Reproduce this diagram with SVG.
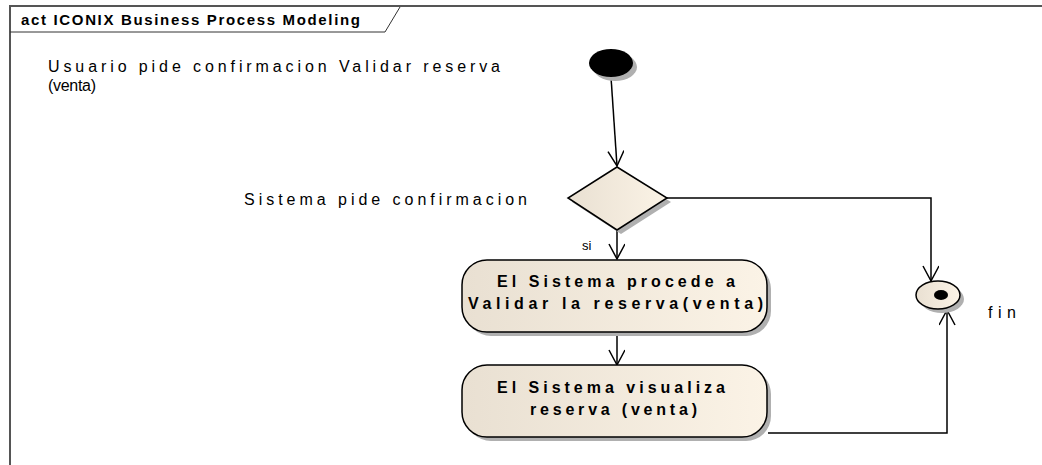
<svg xmlns="http://www.w3.org/2000/svg" width="1042" height="465" viewBox="0 0 1042 465">
<style>
.lbl{font-family:"Liberation Sans",Arial,sans-serif;font-size:16px;fill:#000}
.act{font-family:"Liberation Sans",Arial,sans-serif;font-size:16px;font-weight:bold;fill:#000}
.ttl{font-family:"Liberation Sans",Arial,sans-serif;font-size:15px;font-weight:bold;fill:#000}
.edge{fill:none;stroke:#000;stroke-width:1.5}
.shadow{fill:#b0b0b0}
.node{stroke:#000;stroke-width:1.5;fill:url(#beige)}
</style>
<defs>
<linearGradient id="beige" x1="0" y1="0" x2="1" y2="0">
<stop offset="0" stop-color="#e9e0d2"/>
<stop offset="1" stop-color="#fbf3e6"/>
</linearGradient>
<marker id="open" markerWidth="20" markerHeight="20" refX="16" refY="8" orient="auto" markerUnits="userSpaceOnUse">
<path d="M1,0 L16,8 L1,16" fill="none" stroke="#000" stroke-width="1.5"/>
</marker>
</defs>
<rect width="1042" height="465" fill="#fff"/>
<g id="frame">
<path d="M10,465 L10,6 L1042,6" fill="none" stroke="#555" stroke-width="2"/>
<path d="M10,32 L385,32 L400,7" fill="none" stroke="#333" stroke-width="1"/>
<text class="ttl" x="21" y="25" textLength="339" lengthAdjust="spacing">act ICONIX Business Process Modeling</text>
</g>
<g id="labels">
<text class="lbl" x="48" y="72" textLength="452" lengthAdjust="spacing">Usuario pide confirmacion Validar  reserva</text>
<text class="lbl" x="48" y="91" textLength="48" lengthAdjust="spacing">(venta)</text>
<text class="lbl" x="244" y="205" textLength="283" lengthAdjust="spacing">Sistema pide confirmacion</text>
</g>
<g id="connectors">
<path class="edge" d="M611,77 L617,166" marker-end="url(#open)"/>
<path class="edge" d="M617,230 L617,259" marker-end="url(#open)"/>
<text class="lbl" x="582" y="250" style="font-size:13px">si</text>
<path class="edge" d="M617,332 L617,365" marker-end="url(#open)"/>
<path class="edge" d="M667,198 L931,198 L931,281" marker-end="url(#open)"/>
<path class="edge" d="M768,433 L947,433 L947,310" marker-end="url(#open)"/>
</g>
<g id="start">
<ellipse class="shadow" cx="615" cy="67" rx="22" ry="14"/>
<ellipse cx="611" cy="63" rx="22" ry="14" fill="#000"/>
</g>
<g id="decision">
<polygon class="shadow" points="621,171 671,202 621,234 572,202"/>
<polygon class="node" points="617,167 667,198 617,230 568,198"/>
</g>
<g id="activity1">
<rect class="shadow" x="466" y="264" width="305" height="72" rx="25"/>
<rect class="node" x="462" y="260" width="305" height="72" rx="25"/>
<text class="act" x="497" y="287" textLength="238" lengthAdjust="spacing">El Sistema procede a</text>
<text class="act" x="468" y="309" textLength="295" lengthAdjust="spacing">Validar  la reserva(venta)</text>
</g>
<g id="activity2">
<rect class="shadow" x="466" y="369" width="305" height="72" rx="25"/>
<rect class="node" x="462" y="365" width="305" height="72" rx="25"/>
<text class="act" x="497" y="393" textLength="228" lengthAdjust="spacing">El Sistema visualiza</text>
<text class="act" x="530" y="415" textLength="167" lengthAdjust="spacing">reserva (venta)</text>
</g>
<g id="final">
<ellipse class="shadow" cx="942" cy="299" rx="22" ry="14"/>
<ellipse class="node" cx="938" cy="295" rx="22" ry="14"/>
<ellipse cx="941" cy="295" rx="7" ry="5" fill="#000"/>
<text class="lbl" x="988" y="318" textLength="28" lengthAdjust="spacing">fin</text>
</g>
</svg>
